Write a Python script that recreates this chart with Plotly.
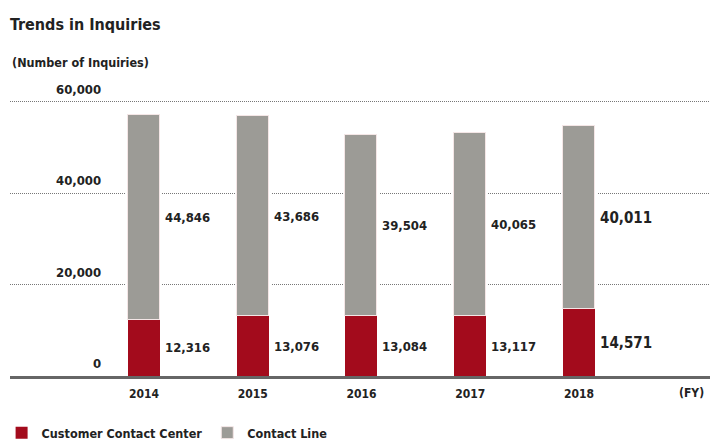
import plotly.graph_objects as go

years = ["2014", "2015", "2016", "2017", "2018"]
contact_center = [12316, 13076, 13084, 13117, 14571]
contact_line = [44846, 43686, 39504, 40065, 40011]
y_ticks = [0, 20000, 40000, 60000]
y_tick_labels = ["0", "20,000", "40,000", "60,000"]

RED = "#A30B1C"
GRAY = "#9C9B96"
TXT = "#222222"
FONT = "Liberation Sans Narrow, DejaVu Sans Condensed, sans-serif"


def f(size):
    return dict(size=size, color=TXT, family=FONT, weight=700)


xs = list(range(len(years)))
totals = [a + b for a, b in zip(contact_center, contact_line)]
BW = 0.294

fig = go.Figure()
# white halo behind bars (breaks gridlines around bars)
fig.add_trace(go.Bar(x=xs, y=totals, width=BW + 0.04, marker=dict(color="white", line=dict(width=0)),
                     showlegend=False, hoverinfo="skip"))
fig.add_trace(go.Bar(x=xs, y=contact_center, width=BW, name="Customer Contact Center",
                     marker=dict(color=RED, line=dict(width=0))))
fig.add_trace(go.Bar(x=xs, y=contact_line, base=contact_center, width=BW, name="Contact Line",
                     marker=dict(color=GRAY, line=dict(color="#f4e6e6", width=1))))

ann = []
for i, (r, g) in enumerate(zip(contact_center, contact_line)):
    big = (i == len(years) - 1)
    fs = 15 if big else 13
    ann.append(dict(x=i + BW / 2, y=r / 2, xref="x", yref="y", text=f"{r:,}", showarrow=False,
                    xanchor="left", yanchor="middle", xshift=3, font=f(fs)))
    ann.append(dict(x=i + BW / 2, y=r + g / 2, xref="x", yref="y", text=f"{g:,}", showarrow=False,
                    xanchor="left", yanchor="middle", xshift=3, font=f(fs)))
for v, t in zip(y_ticks, y_tick_labels):
    ann.append(dict(x=0.133, y=v, xref="paper", yref="y", text=t, showarrow=False,
                    xanchor="right", yanchor="bottom", yshift=3, font=f(13)))
ann.append(dict(x=1, y=0, xref="paper", yref="y", text="(FY)", showarrow=False,
                xanchor="right", yanchor="top", xshift=-4, yshift=-8, font=f(12)))
ann.append(dict(x=0, y=(379 - 62) / 282, xref="paper", yref="paper", text="(Number of Inquiries)", showarrow=False,
                xanchor="left", yanchor="middle", xshift=0, font=f(12.5)))

fig.update_layout(
    width=710, height=448,
    margin=dict(l=10, r=0, t=97, b=69),
    paper_bgcolor="white", plot_bgcolor="white",
    barmode="overlay",
    bargap=0,
    title=dict(text="Trends in Inquiries", x=0.014, xanchor="left", xref="container",
               y=1 - 24 / 448, yanchor="middle", yref="container",
               font=f(16)),
    font=dict(family=FONT, color=TXT, size=13),
    xaxis=dict(range=[-1.232, 5.205], tickvals=xs, ticktext=years, showgrid=False, zeroline=False,
               showline=True, linecolor="#666666", linewidth=2.5, ticks="", ticklen=0,
               ticklabelstandoff=5, tickfont=f(12)),
    yaxis=dict(range=[0, 61000], tickvals=y_ticks[1:], showticklabels=False, showgrid=True,
               gridcolor="#777777", griddash="1px,1px", gridwidth=1, zeroline=False, showline=False),
    legend=dict(orientation="h", x=-0.012, xanchor="left", y=-0.206, yanchor="middle",
                font=f(12.5), traceorder="normal"),
    annotations=ann,
)

fig.write_html("out.html")
